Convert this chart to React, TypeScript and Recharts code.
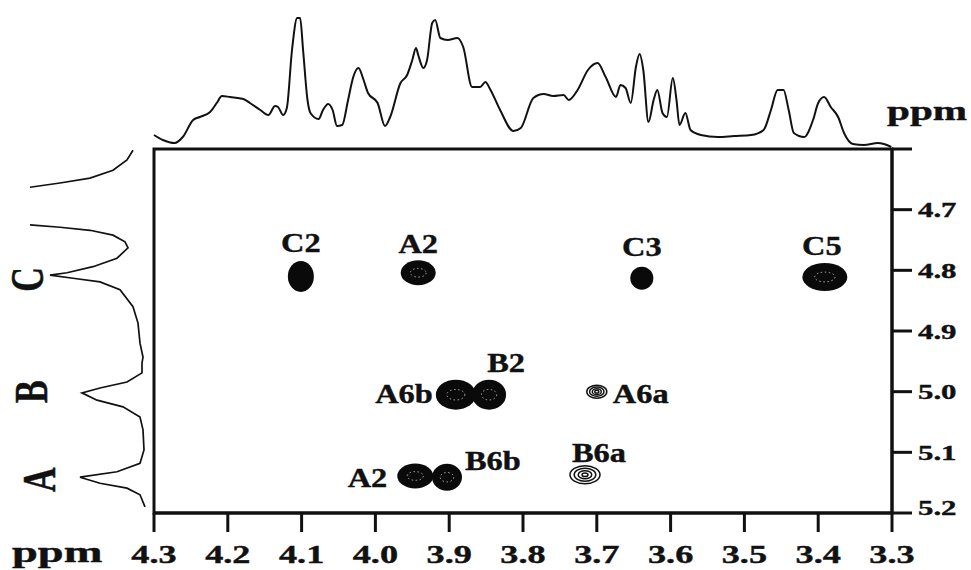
import React from 'react';
import {
  ScatterChart, Scatter, LineChart, Line, XAxis, YAxis, ReferenceArea,
} from 'recharts';

// top 1D projection (ppm, intensity above baseline)
const topPpm = [4.3, 4.288, 4.272, 4.261, 4.247, 4.238, 4.224, 4.215, 4.208, 4.197, 4.179, 4.17, 4.156, 4.145, 4.136, 4.132, 4.125, 4.12, 4.113, 4.106, 4.102, 4.098, 4.092, 4.088, 4.077, 4.071, 4.064, 4.058, 4.052, 4.045, 4.037, 4.03, 4.023, 4.016, 4.01, 3.997, 3.987, 3.98, 3.966, 3.957, 3.95, 3.945, 3.942, 3.935, 3.93, 3.923, 3.919, 3.912, 3.902, 3.889, 3.881, 3.869, 3.858, 3.851, 3.844, 3.831, 3.813, 3.803, 3.786, 3.772, 3.759, 3.745, 3.738, 3.726, 3.712, 3.699, 3.688, 3.674, 3.668, 3.661, 3.654, 3.647, 3.642, 3.637, 3.63, 3.623, 3.618, 3.611, 3.605, 3.597, 3.592, 3.588, 3.58, 3.573, 3.559, 3.536, 3.514, 3.491, 3.474, 3.464, 3.455, 3.447, 3.44, 3.433, 3.419, 3.407, 3.4, 3.392, 3.383, 3.373, 3.365, 3.353, 3.338, 3.319, 3.311, 3.301];
const topIntensity = [13, 8, 5, 11, 28, 31, 36, 45, 52, 51, 49, 45, 38, 33, 42, 41, 33, 40, 98, 130, 130, 98, 48, 35, 29, 38, 44, 38, 22, 23, 48, 71, 80, 68, 55, 45, 22, 31, 65, 73, 88, 100, 93, 80, 88, 125, 128, 110, 108, 110, 101, 61, 61, 66, 58, 38, 17, 20, 50, 54, 52, 53, 48, 58, 78, 85, 71, 51, 63, 60, 45, 81, 94, 78, 26, 48, 58, 35, 31, 70, 48, 23, 35, 18, 13, 11, 12, 13, 18, 38, 58, 58, 38, 15, 11, 28, 45, 51, 41, 31, 15, 4, 3, 5, 4, 1];

// left 1D projection, two pieces (the C peak top runs off scale)
const leftPpmUpper = [4.602, 4.618, 4.635, 4.648, 4.656, 4.663];
const leftIntUpper = [17, 23, 37, 60, 90, 120];
const leftPpmLower = [4.725, 4.729, 4.734, 4.742, 4.753, 4.763, 4.78, 4.794, 4.804, 4.808, 4.813, 4.819, 4.832, 4.86, 4.887, 4.92, 4.943, 4.953, 4.969, 4.984, 4.994, 5.002, 5.014, 5.025, 5.042, 5.063, 5.096, 5.118, 5.132, 5.141, 5.151, 5.159, 5.17, 5.19];
const leftIntLower = [120, 90, 60, 37, 25, 22, 33, 57, 83, 100, 77, 50, 30, 17, 12, 10, 7, 8, 8, 23, 50, 68, 53, 27, 10, 7, 6, 10, 33, 70, 50, 23, 10, 5];

// cross peaks
const peakLabels = ['C2', 'A2', 'C3', 'C5', 'A6b', 'B2', 'A6a', 'A2', 'B6b', 'B6a'];
const peakX = [4.101, 3.942, 3.639, 3.391, 3.891, 3.846, 3.7, 3.946, 3.903, 3.716];
const peakY = [4.81, 4.804, 4.813, 4.811, 5.005, 5.005, 5.0, 5.139, 5.141, 5.137];

const xTicks = [4.3, 4.2, 4.1, 4.0, 3.9, 3.8, 3.7, 3.6, 3.5, 3.4, 3.3];
const yTicks = [4.6, 4.7, 4.8, 4.9, 5.0, 5.1, 5.2];
const projLetters = ['C', 'B', 'A'];
const projLetterPpm = [4.815, 5.0, 5.145];

// blob look + label offset, by peak index
const peakStyle = [
  { rx: 13, ry: 15.5, kind: 'solid', lx: 0, ly: -24, anchor: 'middle' },
  { rx: 17.5, ry: 12.5, kind: 'speckle', lx: 0, ly: -20, anchor: 'middle' },
  { rx: 11.5, ry: 11.5, kind: 'solid', lx: 0, ly: -22, anchor: 'middle' },
  { rx: 22.5, ry: 14, kind: 'speckle', lx: -3, ly: -22, anchor: 'middle' },
  { rx: 20, ry: 15, kind: 'speckle', lx: -23, ly: 8, anchor: 'end' },
  { rx: 17, ry: 15, kind: 'speckle', lx: 17, ly: -23, anchor: 'middle' },
  { rx: 10, ry: 6.5, kind: 'contour', lx: 16, ly: 11, anchor: 'start' },
  { rx: 18, ry: 12.5, kind: 'speckle', lx: -28, ly: 11, anchor: 'end' },
  { rx: 15, ry: 13.5, kind: 'speckle', lx: 18, ly: -7, anchor: 'start' },
  { rx: 15, ry: 9, kind: 'contour', lx: 14, ly: -13, anchor: 'middle' },
];
const letterBaseX = [43, 47, 55];

const SERIF = "'Liberation Serif', 'Times New Roman', serif";
const INK = '#111';

const topData = topPpm.map((p, i) => ({ ppm: p, v: topIntensity[i] }));
const leftUpper = leftPpmUpper.map((p, i) => ({ ppm: p, v: leftIntUpper[i] }));
const leftLower = leftPpmLower.map((p, i) => ({ ppm: p, v: leftIntLower[i] }));
const peaks = peakLabels.map((name, i) => ({ name, idx: i, x: peakX[i], y: peakY[i] }));
const letters = projLetters.map((l, i) => ({ name: l, idx: i, v: 0, ppm: projLetterPpm[i] }));

// bold serif text, a touch heavier like the scanned figure
const Txt = ({ size, anchor = 'start', children }: any) => (
  <text textAnchor={anchor} fontFamily={SERIF} fontWeight="bold" fontSize={size} fill={INK} stroke={INK} strokeWidth={0.4}>
    {children}
  </text>
);

const PeakShape = (props: any) => {
  const { cx, cy, payload } = props;
  const s = peakStyle[payload.idx];
  let blob: React.ReactNode;
  if (s.kind === 'contour') {
    blob = (
      <g>
        {[1, 0.72, 0.45, 0.2].map((k) => (
          <ellipse key={k} cx={cx} cy={cy} rx={s.rx * k} ry={s.ry * k} fill={k === 1 ? '#fff' : 'none'} stroke={INK} strokeWidth={1.5} />
        ))}
      </g>
    );
  } else {
    blob = (
      <g>
        <ellipse cx={cx} cy={cy} rx={s.rx} ry={s.ry} fill="#0a0a0a" />
        {s.kind === 'speckle' && (
          <ellipse cx={cx} cy={cy} rx={s.rx * 0.45} ry={s.ry * 0.35} fill="none" stroke="#bbb" strokeWidth={0.9} strokeDasharray="1.5 2.5" />
        )}
      </g>
    );
  }
  return (
    <g>
      {blob}
      <g transform={`translate(${cx + s.lx},${cy + s.ly}) scale(1.2,1)`}>
        <Txt size={27} anchor={s.anchor}>{payload.name}</Txt>
      </g>
    </g>
  );
};

const LetterShape = (props: any) => {
  const { cy, payload } = props;
  return (
    <g transform={`translate(${letterBaseX[payload.idx]},${cy}) rotate(-90) scale(1,1.35)`}>
      <Txt size={34} anchor="middle">{payload.name}</Txt>
    </g>
  );
};

const XTick = (props: any) => {
  const { x, y, payload } = props;
  return (
    <g transform={`translate(${x},${y + 29}) scale(1.45,1)`}>
      <Txt size={25} anchor="middle">{payload.value.toFixed(1)}</Txt>
    </g>
  );
};

const YTick = (props: any) => {
  const { x, y, payload } = props;
  if (payload.value === 4.6) return <g />;
  const dy = payload.value === 5.2 ? 2 : 7.5;
  return (
    <g transform={`translate(${x + 4},${y + dy}) scale(1.4,1)`}>
      <Txt size={22}>{payload.value.toFixed(1)}</Txt>
    </g>
  );
};

const noDot = () => <g />;

export default function App() {
  return (
    <div style={{ position: 'absolute', left: 0, top: 0, width: 971, height: 570, background: '#fff' }}>
      {/* top projection */}
      <div style={{ position: 'absolute', left: 0, top: 0 }}>
        <LineChart width={971} height={150} data={topData} margin={{ top: 18, right: 79, bottom: 2, left: 154 }}>
          <XAxis dataKey="ppm" type="number" domain={[3.3, 4.3]} reversed hide />
          <YAxis type="number" domain={[0, 130]} hide />
          <Line dataKey="v" type="monotone" dot={false} stroke={INK} strokeWidth={2} isAnimationActive={false} />
        </LineChart>
      </div>

      {/* left projection */}
      <div style={{ position: 'absolute', left: 0, top: 0 }}>
        <ScatterChart width={150} height={570} margin={{ top: 149, right: 0, bottom: 57, left: 0 }}>
          <XAxis dataKey="v" type="number" domain={[0, 150]} reversed hide />
          <YAxis dataKey="ppm" type="number" domain={[4.6, 5.2]} reversed hide />
          <Scatter data={leftUpper} line={{ stroke: INK, strokeWidth: 1.7 }} lineType="joint" shape={noDot} isAnimationActive={false} />
          <Scatter data={leftLower} line={{ stroke: INK, strokeWidth: 1.7 }} lineType="joint" shape={noDot} isAnimationActive={false} />
          <Scatter data={letters} shape={<LetterShape />} isAnimationActive={false} />
        </ScatterChart>
      </div>

      {/* 2D map */}
      <div style={{ position: 'absolute', left: 0, top: 0 }}>
        <ScatterChart width={971} height={570} margin={{ top: 149, right: 9, bottom: 7, left: 154 }}>
          <XAxis
            dataKey="x" type="number" domain={[3.3, 4.3]} reversed ticks={xTicks} interval={0}
            height={50} tickSize={19} tickMargin={2}
            axisLine={{ stroke: INK, strokeWidth: 3 }} tickLine={{ stroke: INK, strokeWidth: 3 }}
            tick={<XTick />}
          />
          <YAxis
            dataKey="y" type="number" orientation="right" domain={[4.6, 5.2]} reversed ticks={yTicks} interval={0}
            width={70} tickSize={20} tickMargin={2}
            axisLine={{ stroke: INK, strokeWidth: 3 }} tickLine={{ stroke: INK, strokeWidth: 3 }}
            tick={<YTick />}
          />
          <ReferenceArea x1={4.3} x2={3.3} y1={4.6} y2={5.2} fill="none" stroke={INK} strokeWidth={3} />
          <Scatter data={peaks} shape={<PeakShape />} isAnimationActive={false} />
        </ScatterChart>
      </div>

      <svg width={971} height={570} style={{ position: 'absolute', left: 0, top: 0, pointerEvents: 'none' }}>
        <g transform="translate(887,120) scale(1.47,1)">
          <Txt size={28}>ppm</Txt>
        </g>
        <g transform="translate(12,562) scale(1.55,1)">
          <Txt size={30}>ppm</Txt>
        </g>
      </svg>
    </div>
  );
}
